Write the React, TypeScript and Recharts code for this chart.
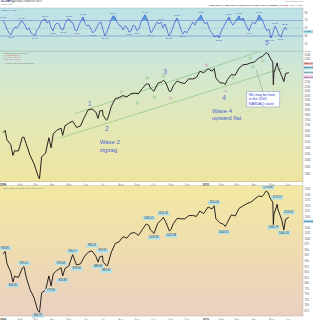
import React from 'react';
import { ComposedChart, Line, Area, XAxis, YAxis, ReferenceLine, ReferenceDot } from 'recharts';

const FONT = '"Liberation Sans", Arial, sans-serif';

// ---- shared date axis (weekly closes plus a few key sessions) ----
const dates = [
  '2009-01-02','2009-01-06','2009-01-09','2009-01-16','2009-01-20','2009-01-23','2009-01-30','2009-02-06','2009-02-09','2009-02-13',
  '2009-02-20','2009-02-27','2009-03-06','2009-03-09','2009-03-13','2009-03-20','2009-03-26','2009-03-30','2009-04-03','2009-04-09',
  '2009-04-17','2009-04-20','2009-04-24','2009-05-01','2009-05-08','2009-05-15','2009-05-22','2009-05-29','2009-06-05','2009-06-12',
  '2009-06-19','2009-06-23','2009-06-26','2009-07-01','2009-07-02','2009-07-08','2009-07-10','2009-07-17','2009-07-24','2009-07-31',
  '2009-08-07','2009-08-14','2009-08-21','2009-08-28','2009-09-04','2009-09-11','2009-09-18','2009-09-23','2009-09-25','2009-10-02',
  '2009-10-09','2009-10-16','2009-10-19','2009-10-23','2009-10-30','2009-11-02','2009-11-06','2009-11-13','2009-11-20','2009-11-27',
  '2009-12-04','2009-12-11','2009-12-18','2009-12-24','2009-12-31','2010-01-08','2010-01-15','2010-01-19','2010-01-22','2010-01-29',
  '2010-02-05','2010-02-08','2010-02-12','2010-02-19','2010-02-26','2010-03-05','2010-03-12','2010-03-19','2010-03-26','2010-04-01',
  '2010-04-09','2010-04-16','2010-04-23','2010-04-26','2010-04-30','2010-05-05','2010-05-06','2010-05-07','2010-05-13','2010-05-14',
  '2010-05-21','2010-05-25','2010-05-28','2010-06-03',
];
const nasdaq = [
  1632,1652,1571,1529,1440,1477,1476,1591,1592,1534,
  1441,1377,1293,1266,1431,1457,1587,1501,1621,1652,
  1673,1608,1694,1719,1739,1680,1692,1774,1849,1858,
  1827,1764,1838,1845,1796,1747,1756,1886,1966,1979,
  2000,1985,2020,2028,2019,2080,2132,2131,2090,2048,
  2139,2156,2176,2154,2045,2049,2112,2167,2146,2138,
  2194,2190,2211,2285,2269,2317,2287,2320,2205,2147,
  2141,2126,2184,2244,2238,2327,2368,2374,2395,2402,
  2454,2481,2530,2522,2461,2402,2120,2265,2394,2347,
  2229,2160,2257,2270,
];
const spx = [
  931.8,943.8,890.4,850.1,805.2,831.9,825.9,868.6,875.0,826.8,
  770.1,735.1,676.0,668.0,756.6,768.5,832.9,787.5,842.5,856.6,
  869.6,832.4,866.2,877.5,929.2,882.9,887.0,919.1,940.1,946.2,
  921.2,895.1,918.9,923.3,896.4,879.6,879.1,940.4,979.3,987.5,
  1010.5,1004.1,1026.1,1028.9,1016.4,1042.7,1068.3,1060.9,1044.4,1025.2,
  1071.5,1087.7,1097.9,1079.6,1036.2,1042.9,1069.3,1093.5,1091.4,1091.5,
  1105.9,1106.4,1102.5,1126.5,1115.1,1145.0,1136.0,1150.2,1091.8,1073.9,
  1066.2,1056.7,1075.5,1109.2,1104.5,1138.7,1150.0,1159.9,1166.6,1178.1,
  1194.4,1192.1,1217.3,1212.1,1186.7,1165.9,1065.8,1110.9,1157.4,1135.7,
  1087.7,1040.8,1089.4,1098.0,
];

// RSI(14), read every ~2.5 sessions
const rsi = [
  71,61,48,38,33,45.5,53,51,58,69,
  66,58,45.5,51,38,35,30,45.5,51,66,
  71,74,63.5,69,53,43,58,63.5,61,48,
  45.5,61,71,74,66,63.5,45.5,43,58,69,
  79,63.5,56,58,48,38,43,53,63.5,66,
  45.5,30,40,56,71,82,79,66,58,56,
  45.5,56,53,40,43,58,56,43,48,66,
  76.5,85,74,56,38,45.5,56,66,61,66,
  51,61,45.5,30,38,53,66,76.5,63.5,45.5,
  35,43,38,48,58,66,58,71,76.5,84,
  71,61,66,51,40,35,27,32.6,25,40,
  51,61,71,79,66,58,66,74,82,71,
  76.5,63.5,53,43,58,66,61,71,84,76.5,
  69,53,43,48,25,38,56,45.5,32.6,27,
  43,53,45,
];
const RSI_STEP_DAYS = 3.617;
const rsiMarks: [number, string, boolean][] = [
  [0,'71.38',true],[4,'33.15',false],[9,'69.42',true],[16,'29.87',false],[21,'73.96',true],[25,'43.21',false],
  [30,'45.62',false],[33,'73.80',true],[37,'42.54',false],[40,'78.73',true],[45,'37.90',false],[51,'30.45',false],
  [55,'82.14',true],[63,'40.27',false],[67,'43.09',false],[71,'84.62',true],[74,'38.41',false],[79,'65.86',true],
  [83,'30.22',false],[87,'76.31',true],[90,'35.48',false],[99,'83.57',true],[108,'25.11',false],[113,'78.95',true],
  [118,'81.70',true],[123,'43.40',false],[128,'84.05',true],[134,'24.88',false],[136,'55.73',true],[139,'27.34',false],
  [141,'53.30',true],
];

const monthTicks = ['2009-01-02','2009-02-02','2009-03-02','2009-04-01','2009-05-01','2009-06-01','2009-07-01','2009-08-03','2009-09-01','2009-10-01','2009-11-02','2009-12-01','2010-01-04','2010-02-01','2010-03-01','2010-04-01','2010-05-03','2010-06-01'];
const monthLabels = ['2009','Feb','Mar','Apr','May','Jun','Jul','Aug','Sep','Oct','Nov','Dec','2010','Feb','Mar','Apr','May','Jun'];

// annotations (date, price)
const waveLabels = [
  { date: '2009-06-08', price: 1914, text: '1' },
  { date: '2009-07-09', price: 1666, text: '2' },
  { date: '2009-10-22', price: 2286, text: '3' },
  { date: '2010-02-06', price: 1979, text: '4' },
];
const minorLabels = [
  { date: '2009-08-04', price: 2035, text: 'i', c: '#58b058' },
  { date: '2009-09-02', price: 1914, text: 'ii', c: '#58b058' },
  { date: '2009-09-20', price: 2199, text: 'iii', c: '#58b058' },
  { date: '2009-10-03', price: 1979, text: 'iv', c: '#58b058' },
  { date: '2009-10-19', price: 2224, text: 'v', c: '#58b058' },
  { date: '2009-11-01', price: 1968, text: 'a', c: '#d070c0' },
  { date: '2010-01-05', price: 2364, text: 'b', c: '#d070c0' },
  { date: '2010-02-08', price: 2046, text: 'c', c: '#d070c0' },
  { date: '2010-02-22', price: 2199, text: 'i', c: '#58b058' },
  { date: '2010-03-25', price: 2458, text: 'iii', c: '#58b058' },
  { date: '2010-03-30', price: 2338, text: 'iv', c: '#58b058' },
  { date: '2010-04-17', price: 2417, text: 'v', c: '#58b058' },
];
const channels = [
  [{ date: '2009-05-12', price: 1811 }, { date: '2010-04-14', price: 2555 }],
  [{ date: '2009-04-15', price: 1584 }, { date: '2010-05-23', price: 2325 }],
];
const spxLabels: [string, number, string, boolean][] = [
  ['2009-01-06',943.85,'943.85',true],['2009-01-20',804.30,'804.30',false],['2009-02-09',875.01,'875.01',true],
  ['2009-03-06',666.79,'666.79',false],['2009-03-30',779.81,'779.81',false],['2009-04-17',875.63,'875.63',true],
  ['2009-04-20',826.83,'826.83',false],['2009-05-08',930.17,'930.17',true],['2009-05-15',878.94,'878.94',false],
  ['2009-06-12',956.23,'956.23',true],['2009-06-23',888.86,'888.86',false],['2009-07-01',931.92,'931.92',true],
  ['2009-07-08',869.32,'869.32',false],['2009-09-23',1080.15,'1080.15',true],['2009-10-02',1019.95,'1019.95',false],
  ['2009-10-19',1101.36,'1101.36',true],['2009-11-02',1029.38,'1029.38',false],['2010-01-19',1150.45,'1150.45',true],
  ['2010-02-05',1044.50,'1044.50',false],['2010-04-26',1219.80,'1219.80',true],['2010-05-06',1065.79,'1065.79',false],
  ['2010-05-13',1173.57,'1173.57',true],['2010-05-25',1040.78,'1040.78',false],['2010-06-03',1105.67,'1105.67',true],
];

// right-axis value tags
const rsiTag = { value: 41, text: '44.83' };
const ndxTags = [
  { value: 2384, text: '2384.69', bg: '#f4b8b8' },
  { value: 2330, text: '2330.12', bg: '#9fd6e4' },
  { value: 2270, text: '2303.03', bg: '#bfe6ee' },
  { value: 2216, text: '2216.16', bg: '#f0c0e8' },
];
const spxTag = { value: 1080, text: '1102.83' };

const T0 = Date.UTC(2009, 0, 2);
const day = (s: string) => {
  const [y, m, d] = s.split('-').map(Number);
  return Math.round((Date.UTC(y, m - 1, d) - T0) / 86400000);
};
const X_DOMAIN: [number, number] = [-5.4, 542.6];
const tickDays = monthTicks.map(day);

const priceData = dates.map((s, i) => ({ d: day(s), ndx: nasdaq[i], spx: spx[i] }));
const rsiData = rsi.map((v, i) => ({ d: i * RSI_STEP_DAYS, rsi: v }));

const ndxTicks: number[] = [];
for (let v = 1300; v <= 2550; v += 50) if (v < 2200 || v > 2400) ndxTicks.push(v);
const spxTicks: number[] = [];
for (let v = 675; v <= 1225; v += 25) if (v !== 1075) spxTicks.push(v);

const MonthTick = (props: any) => {
  const { x, payload } = props;
  const idx = tickDays.indexOf(payload.value);
  const lab = monthLabels[idx] ?? '';
  const isYear = /^\d{4}$/.test(lab);
  return (
    <text x={Math.max(x, 3)} y={props.y + 1.2} fontSize={2.8} textAnchor="middle" dominantBaseline="central"
      fill={isYear ? '#222' : '#888'} fontWeight={isYear ? 'bold' : 'normal'} fontFamily={FONT}>{lab}</text>
  );
};

const txt = (t: string, size: number, color: string, anchor: string = 'middle', weight: string = 'normal') => (p: any) => (
  <text x={p.cx} y={p.cy} fontSize={size} fill={color} textAnchor={anchor as any} dominantBaseline="central"
    fontFamily={FONT} fontWeight={weight}>{t}</text>
);

const rightTag = (text: string, bg: string, color: string) => (props: any) => {
  const vb = props.viewBox || {};
  const x = (vb.x ?? 0) + (vb.width ?? 0) + 0.5;
  const y = vb.y ?? 0;
  return (
    <g>
      <rect x={x} y={y - 1.6} width={9.5} height={3.2} fill={bg} />
      <text x={x + 0.6} y={y + 0.1} fontSize={2.5} fill={color} dominantBaseline="central" fontFamily={FONT}>{text}</text>
    </g>
  );
};

const yTick = { fontSize: 2.6, fill: '#555', fontFamily: FONT };

export default function App() {
  return (
    <div style={{ position: 'absolute', left: 0, top: 0, width: 313, height: 320, overflow: 'hidden', background: '#fff' }}>
      <div style={{ position: 'absolute', left: 0, top: 8, width: 303, height: 173.5,
        background: 'linear-gradient(to bottom, #bde2e6 0%, #c7e5de 22%, #d4e8cd 40%, #e2e8b8 64%, #efe4a0 100%)' }} />
      <div style={{ position: 'absolute', left: 0, top: 185.5, width: 303, height: 130.5,
        background: 'linear-gradient(to bottom, #f2e8a3 0%, #f0dfad 40%, #edd6b8 72%, #ebd0c1 100%)' }} />

      {/* RSI panel */}
      <div style={{ position: 'absolute', left: 0, top: 8 }}>
        <ComposedChart width={313} height={43} data={rsiData} margin={{ top: 0, right: 0, bottom: 0, left: 0 }}>
          <XAxis type="number" dataKey="d" domain={X_DOMAIN} hide allowDataOverflow />
          <YAxis orientation="right" width={10} domain={[-8.7, 102.3]} ticks={[10, 30, 50, 70, 90]} allowDataOverflow
            tick={yTick} tickLine={false} axisLine={false} tickSize={1} tickMargin={0.5} interval={0} />
          <ReferenceLine y={70} stroke="#7f90d4" strokeWidth={0.7} />
          <ReferenceLine y={30} stroke="#7f90d4" strokeWidth={0.7} />
          <ReferenceLine y={50} stroke="#8a9ad0" strokeWidth={0.5} strokeDasharray="1.5 1.5" />
          <Area dataKey={(p: any) => [70, Math.max(70, p.rsi)]} stroke="none" fill="#3f9ad8" fillOpacity={0.85} isAnimationActive={false} />
          <Area dataKey={(p: any) => [Math.min(30, p.rsi), 30]} stroke="none" fill="#3f9ad8" fillOpacity={0.85} isAnimationActive={false} />
          <Line dataKey="rsi" stroke="#5060d8" strokeWidth={0.8} dot={false} isAnimationActive={false} />
          {rsiMarks.map(([i, t, up]) => (
            <ReferenceDot key={'rm' + i} x={i * RSI_STEP_DAYS} y={rsi[i]} r={0}
              shape={(p: any) => (
                <text x={p.cx} y={p.cy + (up ? -2.2 : 2.4)} fontSize={2.4} fill="#4050b8" textAnchor="middle"
                  dominantBaseline="central" fontFamily={FONT}>{t}</text>
              )} />
          ))}
          <ReferenceDot x={day('2010-04-24')} y={12} r={0} shape={txt('5', 6.5, '#5a6fd0')} />
          <ReferenceLine y={rsiTag.value} stroke="none" label={rightTag(rsiTag.text, '#9fd6e4', '#123')} />
        </ComposedChart>
      </div>

      {/* Nasdaq panel (log) */}
      <div style={{ position: 'absolute', left: 0, top: 51 }}>
        <ComposedChart width={313} height={134.5} data={priceData} margin={{ top: 0, right: 0, bottom: 0, left: 0 }}>
          <XAxis type="number" dataKey="d" domain={X_DOMAIN} allowDataOverflow ticks={tickDays} interval={0}
            height={4} tick={<MonthTick />} tickLine={false} axisLine={false} tickSize={0} />
          <YAxis orientation="right" width={10} scale="log" domain={[1248, 2555]} ticks={ndxTicks} allowDataOverflow
            tick={yTick} tickLine={false} axisLine={false} tickSize={1} tickMargin={0.5} interval={0} />
          {channels.map((c, i) => (
            <ReferenceLine key={'ch' + i} segment={[{ x: day(c[0].date), y: c[0].price }, { x: day(c[1].date), y: c[1].price }]}
              stroke="#7cc07c" strokeWidth={0.6} ifOverflow="visible" />
          ))}
          <ReferenceLine segment={[{ x: day('2010-04-05'), y: 2299 }, { x: day('2010-04-17'), y: 2046 }]}
            stroke="#8a8a8a" strokeWidth={0.5} />
          <Line dataKey="ndx" stroke="#2a2222" strokeWidth={1} dot={false} isAnimationActive={false} />
          {waveLabels.map((w) => (
            <ReferenceDot key={'w' + w.text} x={day(w.date)} y={w.price} r={0} shape={txt(w.text, 6.5, '#5a6fd0')} />
          ))}
          {minorLabels.map((m, i) => (
            <ReferenceDot key={'m' + i} x={day(m.date)} y={m.price} r={0} shape={txt('(' + m.text + ')', 2.6, m.c)} />
          ))}
          <ReferenceDot x={day('2009-06-26')} y={1550} r={0}
            shape={(p: any) => (
              <text x={p.cx} y={p.cy} fontSize={6} fill="#5064d4" fontFamily={FONT} dominantBaseline="central">
                <tspan x={p.cx} dy={0}>Wave 2</tspan>
                <tspan x={p.cx} dy={7.5}>zigzag</tspan>
              </text>
            )} />
          <ReferenceDot x={day('2010-01-15')} y={1841} r={0}
            shape={(p: any) => (
              <text x={p.cx} y={p.cy} fontSize={6} fill="#5064d4" fontFamily={FONT} dominantBaseline="central">
                <tspan x={p.cx} dy={0}>Wave 4</tspan>
                <tspan x={p.cx} dy={7.5}>upward flat</tspan>
              </text>
            )} />
          <ReferenceDot x={day('2010-03-19')} y={2046} r={0}
            shape={(p: any) => (
              <g>
                <rect x={p.cx} y={p.cy} width={33} height={15.5} fill="#ffffff" stroke="#8090c8" strokeWidth={0.5} />
                <text x={p.cx + 2} y={p.cy} fontSize={3.6} fill="#2a3ccc" fontFamily={FONT} dominantBaseline="central">
                  <tspan x={p.cx + 2} dy={3.5}>We may be here</tspan>
                  <tspan x={p.cx + 2} dy={4.3}>in the 2020</tspan>
                  <tspan x={p.cx + 2} dy={4.3}>NASDAQ count</tspan>
                </text>
              </g>
            )} />
          {ndxTags.map((t) => (
            <ReferenceLine key={'t' + t.value} y={t.value} stroke="none" label={rightTag(t.text, t.bg, '#222')} />
          ))}
        </ComposedChart>
      </div>

      {/* S&P panel (linear) */}
      <div style={{ position: 'absolute', left: 0, top: 185.5 }}>
        <ComposedChart width={313} height={134.5} data={priceData} margin={{ top: 0, right: 0, bottom: 0, left: 0 }}>
          <XAxis type="number" dataKey="d" domain={X_DOMAIN} allowDataOverflow ticks={tickDays} interval={0}
            height={4} tick={<MonthTick />} tickLine={false} axisLine={false} tickSize={0} />
          <YAxis orientation="right" width={10} domain={[649, 1240]} ticks={spxTicks} allowDataOverflow
            tick={yTick} tickLine={false} axisLine={false} tickSize={1} tickMargin={0.5} interval={0} />
          <Line dataKey="spx" stroke="#111" strokeWidth={0.9} dot={false} isAnimationActive={false} />
          {spxLabels.map(([dt, v, t, up]) => (
            <ReferenceDot key={'s' + dt} x={day(dt)} y={v} r={0}
              shape={(p: any) => (
                <g>
                  <rect x={p.cx - 6} y={p.cy + (up ? -5 : 1.2)} width={12} height={3.8} fill="#b4e2ea" />
                  <text x={p.cx} y={p.cy + (up ? -3.1 : 3.1)} fontSize={2.7} fill="#234" textAnchor="middle"
                    dominantBaseline="central" fontFamily={FONT}>{t}</text>
                </g>
              )} />
          ))}
          <ReferenceLine y={spxTag.value} stroke="none" label={rightTag(spxTag.text, '#9fd6e4', '#123')} />
        </ComposedChart>
      </div>

      {/* static frame, headers and legends */}
      <svg width={313} height={320} style={{ position: 'absolute', left: 0, top: 0, pointerEvents: 'none' }} fontFamily={FONT}>
        <line x1={0} y1={8} x2={303} y2={8} stroke="#a8b8b8" strokeWidth={0.5} />
        <line x1={0} y1={51.2} x2={303} y2={51.2} stroke="#9fb59f" strokeWidth={0.6} />
        <line x1={0} y1={181.5} x2={303} y2={181.5} stroke="#b8b090" strokeWidth={0.5} />
        <line x1={0} y1={185.5} x2={303} y2={185.5} stroke="#b8b090" strokeWidth={0.5} />
        <line x1={0} y1={316} x2={303} y2={316} stroke="#b8a898" strokeWidth={0.5} />
        <line x1={303} y1={8} x2={303} y2={316} stroke="#b0b0b0" strokeWidth={0.5} />

        <text x={1} y={2.4} fontSize={2.9} fill="#1c2d6e" fontWeight="bold">$COMPQ</text>
        <text x={13} y={2.4} fontSize={2.6} fill="#555">Nasdaq Composite INDX</text>
        <text x={1} y={5.3} fontSize={2.2} fill="#777">3-Jun-2010</text>
        <text x={303} y={2.2} fontSize={2.2} fill="#888" textAnchor="end">© StockCharts.com</text>
        <text x={303} y={5.6} fontSize={2.3} fill="#333" textAnchor="end">
          <tspan fontWeight="bold">Open</tspan> 2282.40 <tspan fontWeight="bold">High</tspan> 2303.95 <tspan fontWeight="bold">Low</tspan> 2262.80 <tspan fontWeight="bold">Close</tspan> 2303.03 <tspan fontWeight="bold">Volume</tspan> 1.9B <tspan fontWeight="bold" fill="#c33">Chg</tspan> +1.97 (+1.0%)
        </text>

        <text x={1.5} y={10.5} fontSize={2.4} fill="#3850b0">RSI(14) 44.83</text>

        <text x={2} y={54} fontSize={2.1} fill="#777">— $COMPQ (Daily) 2303.03</text>
        <text x={2} y={56} fontSize={2.1} fill="#e04848">— MA(50) 2384.69</text>
        <text x={2} y={58} fontSize={2.1} fill="#e07070">— MA(200) 2216.16</text>
        <text x={2} y={60} fontSize={2.1} fill="#d060d0">— EMA(20) 2330.12</text>
        <text x={5} y={63.5} fontSize={2.1} fill="#777">Volume undef  2303.03  2262.80</text>

        <text x={3} y={188.5} fontSize={2.3} fill="#777">$SPX S&amp;P 500 Large Cap Index (Daily)</text>
      </svg>
    </div>
  );
}
